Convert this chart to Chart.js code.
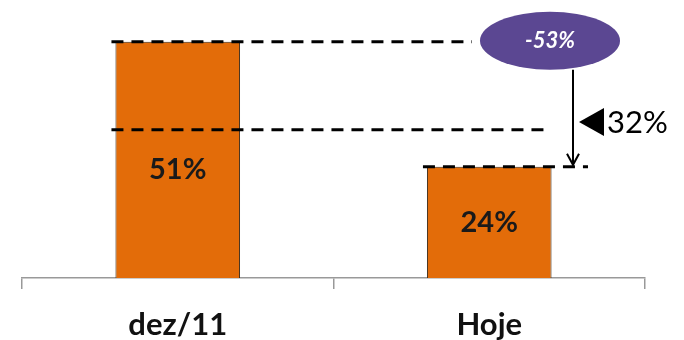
<!DOCTYPE html>
<html>
<head>
<meta charset="utf-8">
<script src="https://cdn.jsdelivr.net/npm/chart.js@4/dist/chart.umd.min.js"></script>
<style>
  html, body { margin: 0; padding: 0; background: #fff; }
  #wrap { width: 684px; height: 340px; }
</style>
</head>
<body>
<div id="wrap"><canvas id="myChart" width="684" height="340"></canvas></div>
<script>
const categories = ['dez/11', 'Hoje'];
const values = [51, 24];
const barLabels = ['51%', '24%'];
const guideLevels = [51, 32, 24];
const changeLabel = '-53%';
const gapLabel = '32%';

// dashed guides, purple bubble, arrow and triangle
const annotations = {
  id: 'annotations',
  afterDatasetsDraw(chart) {
    const ctx = chart.ctx;
    const y = chart.scales.y;
    const bars = chart.getDatasetMeta(0).data;
    const b1 = bars[0], b2 = bars[1];
    const left1 = b1.x - b1.width / 2;
    const left2 = b2.x - b2.width / 2;
    const yTop = y.getPixelForValue(guideLevels[0]);
    const yMid = y.getPixelForValue(guideLevels[1]);
    const yLow = y.getPixelForValue(guideLevels[2]);

    ctx.save();
    // bar value labels
    ctx.fillStyle = '#1a1a1a';
    ctx.font = 'bold 29px Lato';
    ctx.textAlign = 'center';
    ctx.textBaseline = 'middle';
    bars.forEach((b, i) => {
      const cy = (b.y + b.base) / 2 + (i === 0 ? 10 : 0);
      ctx.fillText(barLabels[i], b.x, cy);
    });

    // dashed lines
    ctx.strokeStyle = '#000';
    ctx.lineWidth = 3;
    ctx.setLineDash([12, 8]);
    const line = (x0, x1, yy) => {
      ctx.beginPath();
      ctx.moveTo(x0, yy);
      ctx.lineTo(x1, yy);
      ctx.stroke();
    };
    line(left1 - 4, 472, yTop);
    line(left1 - 4, 544, yMid);
    line(left2 - 4, 588, yLow);
    ctx.setLineDash([]);

    // purple ellipse
    const ex = 550, ey = yTop - 1;
    ctx.fillStyle = '#5B4792';
    ctx.beginPath();
    ctx.ellipse(ex, ey, 70, 29, 0, 0, Math.PI * 2);
    ctx.fill();
    ctx.fillStyle = '#fff';
    ctx.font = 'italic bold 22px Lato';
    ctx.fillText(changeLabel, ex, ey);

    // arrow down to bar 2 top
    const ax = 573;
    ctx.strokeStyle = '#000';
    ctx.lineWidth = 2;
    ctx.beginPath();
    ctx.moveTo(ax, ey + 29);
    ctx.lineTo(ax, yLow - 2);
    ctx.moveTo(ax - 6, yLow - 13);
    ctx.lineTo(ax, yLow - 2);
    ctx.lineTo(ax + 6, yLow - 13);
    ctx.stroke();

    // left-pointing triangle
    const ty = 122;
    ctx.fillStyle = '#000';
    ctx.beginPath();
    ctx.moveTo(579, ty);
    ctx.lineTo(604, ty - 14);
    ctx.lineTo(604, ty + 14);
    ctx.closePath();
    ctx.fill();
    ctx.font = '31px Lato';
    ctx.textAlign = 'left';
    ctx.fillText(gapLabel, 607, ty + 1);
    ctx.restore();
  }
};

const ctx = document.getElementById('myChart').getContext('2d');
let myChart = new Chart(ctx, {
  type: 'bar',
  data: {
    labels: categories,
    datasets: [
      {
        data: values,
        backgroundColor: '#E36C09',
        borderColor: '#3a2a1a',
        borderWidth: 1,
        barPercentage: 0.4,
        categoryPercentage: 1
      }
    ]
  },
  options: {
    responsive: false,
    animation: false,
    layout: { padding: { left: 22, right: 39, top: 0, bottom: 0 } },
    plugins: { legend: { display: false }, tooltip: { enabled: false } },
    scales: {
      y: { display: false, min: 0, max: 60 },
      x: {
        afterFit: s => { s.height = 62; },
        border: { color: '#999', width: 1.5 },
        grid: { drawOnChartArea: false, color: '#999', lineWidth: 1.5, tickLength: 11 },
        ticks: { color: '#111', font: { family: 'Lato', size: 31, weight: 'bold' }, padding: 17 }
      }
    }
  },
  plugins: [annotations]
});
</script>
</body>
</html>
